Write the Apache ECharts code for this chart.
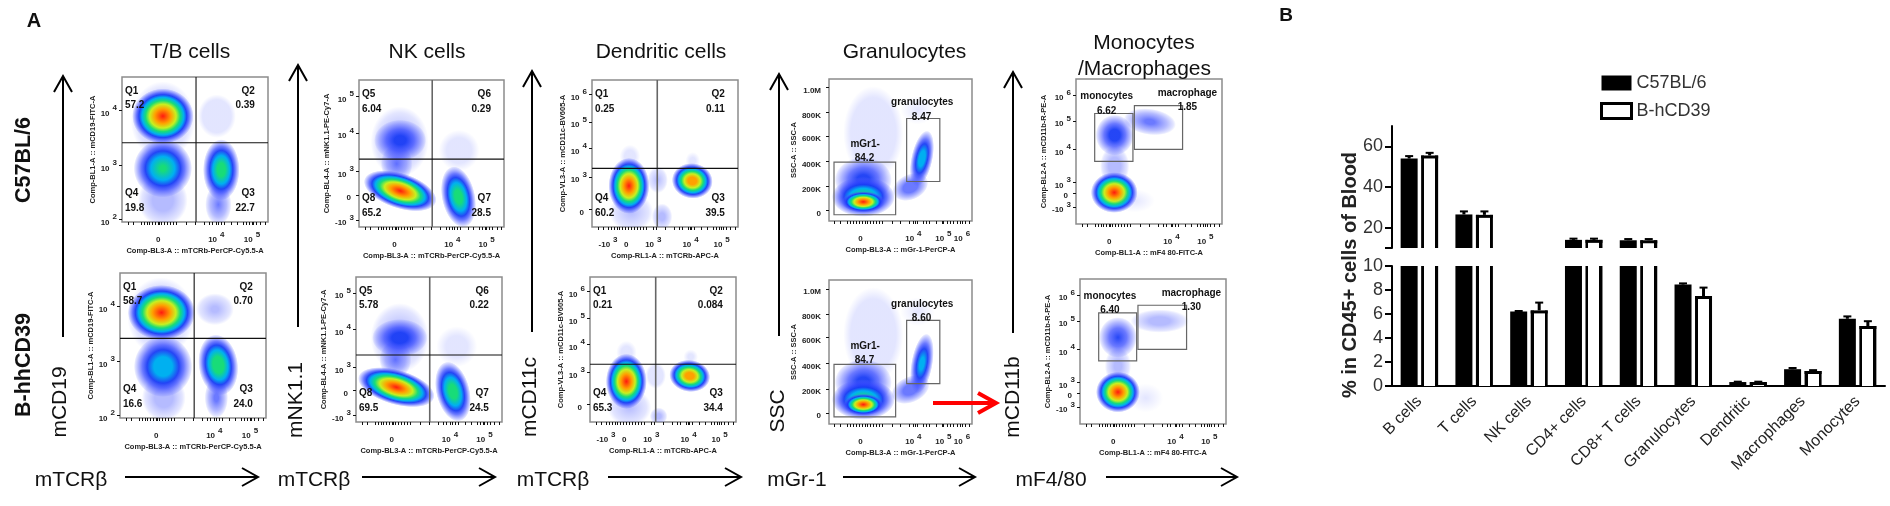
<!DOCTYPE html>
<html><head><meta charset="utf-8">
<style>html,body{margin:0;padding:0;background:#fff}#c{width:1890px;height:506px;filter:blur(0.4px)}</style>
<script src="https://cdn.jsdelivr.net/npm/echarts@6/dist/echarts.min.js"></script>
</head><body><div id="c"></div>
<script>
// ---------- Panel B data ----------
const cellTypes=['B cells','T cells','NK cells','CD4+ cells','CD8+ T cells','Granulocytes','Dendritic','Macrophages','Monocytes'];
const c57Values=[54,26.5,6.2,14,13.8,8.45,0.33,1.4,5.6];
const hcdValues=[55.5,26.3,6.3,14,13.8,7.5,0.33,1.25,5.0];
const c57Tops=[55.2,28,6.25,14.6,14.4,8.55,0.36,1.5,5.8];
const hcdTops=[56.8,28,6.95,14.6,14.4,8.2,0.36,1.32,5.4];
const upperTicks=[10,20,40,60];
const upperLabels=[20,40,60];
const lowerTicks=[0,2,4,6,8,10];
const seriesNames=['C57BL/6','B-hCD39'];

// ---------- Panel A: flow plots, values in percent of each plot's width and height ----------
// clouds: x, y, radiusX, radiusY, tilt, peak density
const tb1Cloud=[[28,70,22,27,0,.12],[28,15,17,18,0,.14],[66,12,9,14,0,.2],[65,73,13,15,0,.09],[28,73,21,19,0,1],[28,37,20,20,0,.58],[68,36,12.5,21,0,.63]];
const tb2Cloud=[[28,70,23,27,0,.12],[30,14,15,16,0,.14],[66,14,8,14,0,.22],[65,75,13,11,0,.11],[28.4,72.7,23,19,0,1],[29.5,35.5,20,21,0,.52],[67.3,36.6,13.5,21,8,.66]];
const nk1Cloud=[[28,58,20,24,0,.12],[26,43,11,13,0,.2],[69,52,14,14,0,.06],[28.4,59,18,14,0,.34],[28.4,24.6,26,12,-18,1],[68.6,20.5,11.5,21,12,.63]];
const nk2Cloud=[[30,58,20,24,0,.12],[27,43,11,13,0,.2],[69,52,14,14,0,.05],[30,58,19,13,0,.36],[27.6,24,27,12,-16,1],[66.4,21,11.5,21,14,.64]];
const dc1Cloud=[[27,10,15,13,0,.1],[45,32,7,9,0,.1],[48,7,7,9,0,.12],[25.3,28,14,19,0,1],[68.7,31.4,14,12,-8,.95],[26,48,7,8,0,.05],[69,45,5,6,0,.04]];
const dc2Cloud=[[27,10,15,13,0,.1],[45,32,7,9,0,.08],[47,4,6,6,0,.12],[24.9,28,14,19,0,1],[68.3,31.8,14,11,-8,.95],[25,48,7,8,0,.05],[69,45,5,5,0,.04]];
const gr1Cloud=[[31,62,21,33,0,.09],[57,24,13,9,25,.28],[65,44,7.5,20,-12,.5],[24,29,20,16,0,.34],[24,17,22,14,0,.6],[24,13.5,15,7.5,0,1],[62,78,12,10,0,.03]];
const gr2Cloud=[[31,62,21,33,0,.09],[57,24,14,9,25,.27],[65,42,7.5,21,-10,.47],[24,29,20,16,0,.34],[24,17,22,14,0,.6],[24,13.5,14,7.5,0,1],[62,78,12,10,0,.03]];
const mo1Cloud=[[26.5,40,10,14,0,.14],[26.5,61.3,13,14,0,.36],[50.6,70.5,18,9,-8,.22],[26.2,21.7,16,14,0,1],[40,16,14,8,0,.03]];
const mo2Cloud=[[26,40,9,13,0,.12],[26,59.7,13,14,0,.3],[54.6,71,20,8,0,.13],[26,22,15,14,0,1],[45,18,12,10,0,.03]];

const tb1Quad=[50.7,54.7], tb2Quad=[50.8,54.9], nk1Quad=[50.5,46.2], nk2Quad=[50.5,46.2], dc1Quad=[44.7,39.9], dc2Quad=[45,39.8];
const gr1Gates=[[3.5,4.4,46.6,41.4],[54.3,27.8,77.5,72.2]];
const gr2Gates=[[3.5,4.9,46.6,41.4],[54.3,28.1,77.5,71.9]];
const mo1Gates=[[12.8,43.2,39,76.2],[40,51.5,73,81.7]];
const mo2Gates=[[12.8,43.5,38.8,76.7],[39.7,51.5,73,81.9]];

const tbGates=['Q1','Q2','Q4','Q3'], nkGates=['Q5','Q6','Q8','Q7'];
const tb1Stats=['57.2','0.39','19.8','22.7'], tb2Stats=['58.7','0.70','16.6','24.0'];
const nk1Stats=['6.04','0.29','65.2','28.5'], nk2Stats=['5.78','0.22','69.5','24.5'];
const dc1Stats=['0.25','0.11','60.2','39.5'], dc2Stats=['0.21','0.084','65.3','34.4'];
const gr1Texts=[[65.2,83.6,'granulocytes'],[64.7,73.4,'8.47'],[25.3,54,'mGr1-'],[24.8,43.9,'84.2']];
const gr2Texts=[[65.2,83,'granulocytes'],[64.7,73.7,'8.60'],[25.3,54.2,'mGr1-'],[24.8,44,'84.7']];
const mo1Texts=[[21,88.3,'monocytes'],[21,78,'6.62'],[76.3,90.2,'macrophage'],[76.3,80.3,'1.85']];
const mo2Texts=[[20.5,88.3,'monocytes'],[20.5,78.5,'6.40'],[76.3,90.3,'macrophage'],[76.3,80.3,'1.30']];

const tbXTicks=[[25.8,'0'],[64.6,'10^4'],[89,'10^5']], tbYTicks=[[1.6,'10^2'],[38.9,'10^3'],[77,'10^4']];
const nkXTicks=[[25.5,'0'],[64.4,'10^4'],[88,'10^5']], nkYTicks=[[4.6,'-10^3'],[21.6,'0'],[37.6,'10^3'],[63.8,'10^4'],[88.8,'10^5']];
const dcXTicks=[[11,'-10^3'],[24.5,'0'],[42,'10^3'],[67.5,'10^4'],[88.8,'10^5']], dcYTicks=[[12,'0'],[34,'10^3'],[53.5,'10^4'],[71.5,'10^5'],[90,'10^6']];
const grXTicks=[[23,'0'],[59,'10^4'],[80,'10^5'],[93,'10^6']], grYTicks=[[7.5,'0'],[24.3,'200K'],[42,'400K'],[60,'600K'],[76.4,'800K'],[93.9,'1.0M']];
const moXTicks=[[23.7,'0'],[65.4,'10^4'],[88.6,'10^5']], moYTicks=[[11.7,'-10^3'],[21.3,'0'],[28.6,'10^3'],[51.5,'10^4'],[71,'10^5'],[89,'10^6']];
const minorMarks=[4,8,13,15,17,19,21,23,25,27,29,31,33,35,37,44,50,56,60,62,66,68,70,75,79,83,85,87,90,92,95,98];

const xNames={tb:'Comp-BL3-A :: mTCRb-PerCP-Cy5.5-A',nk:'Comp-BL3-A :: mTCRb-PerCP-Cy5.5-A',dc:'Comp-RL1-A :: mTCRb-APC-A',gr:'Comp-BL3-A :: mGr-1-PerCP-A',mo:'Comp-BL1-A :: mF4 80-FITC-A'};
const yNames={tb:'Comp-BL1-A :: mCD19-FITC-A',nk:'Comp-BL4-A :: mNK1.1-PE-Cy7-A',dc:'Comp-VL3-A :: mCD11c-BV605-A',gr:'SSC-A :: SSC-A',mo:'Comp-BL2-A :: mCD11b-R-PE-A'};

// ---------- layout ----------
const plots=[
 {box:[122,77,146,145],kind:'tb',cloud:tb1Cloud,quad:tb1Quad,stats:tb1Stats,gates:tbGates,xt:tbXTicks,yt:tbYTicks},
 {box:[359,80,145,147],kind:'nk',cloud:nk1Cloud,quad:nk1Quad,stats:nk1Stats,gates:nkGates,xt:nkXTicks,yt:nkYTicks},
 {box:[592,80,146,147],kind:'dc',cloud:dc1Cloud,quad:dc1Quad,stats:dc1Stats,gates:tbGates,xt:dcXTicks,yt:dcYTicks},
 {box:[829,79,143,142],kind:'gr',cloud:gr1Cloud,rects:gr1Gates,texts:gr1Texts,xt:grXTicks,yt:grYTicks},
 {box:[1076,79,146,145],kind:'mo',cloud:mo1Cloud,rects:mo1Gates,texts:mo1Texts,xt:moXTicks,yt:moYTicks},
 {box:[120,273,146,145],kind:'tb',cloud:tb2Cloud,quad:tb2Quad,stats:tb2Stats,gates:tbGates,xt:tbXTicks,yt:tbYTicks},
 {box:[356,277,146,145],kind:'nk',cloud:nk2Cloud,quad:nk2Quad,stats:nk2Stats,gates:nkGates,xt:nkXTicks,yt:nkYTicks},
 {box:[590,277,146,145],kind:'dc',cloud:dc2Cloud,quad:dc2Quad,stats:dc2Stats,gates:tbGates,xt:dcXTicks,yt:dcYTicks},
 {box:[829,280,143,144],kind:'gr',cloud:gr2Cloud,rects:gr2Gates,texts:gr2Texts,xt:grXTicks,yt:grYTicks},
 {box:[1080,279,146,145],kind:'mo',cloud:mo2Cloud,rects:mo2Gates,texts:mo2Texts,xt:moXTicks,yt:moYTicks}
];
const BAR_W=17, BAR_OFF=10.25, WALL=3;
const ramp=[[0,'rgba(80,95,255,0)'],[.03,'rgba(80,95,255,.16)'],[.1,'rgba(70,85,255,.4)'],[.2,'rgba(50,70,255,.72)'],[.3,'rgba(25,60,245,.95)'],[.42,'#00b0f0'],[.56,'#18dc78'],[.7,'#c8f020'],[.85,'#ffa000'],[1,'#ff1a10']];
function cloudFill(peak){
  const st=ramp.filter(r=>r[0]<=peak).map(r=>({offset:Math.pow(1-r[0]/peak,.7),color:r[1]})).reverse();
  return new echarts.graphic.RadialGradient(.5,.5,.5,st);
}
const rich={b:{fontSize:8,fontWeight:'bold',fontFamily:'Liberation Sans',color:'#222',padding:[6,3,0,0]},
            s:{fontSize:8,fontWeight:'bold',fontFamily:'Liberation Sans',color:'#222',padding:[0,0,5,0]}};
function tickLabel(list){return v=>{
  const e=list.find(t=>Math.abs(t[0]-v)<1e-6); if(!e) return '';
  const p=e[1].split('^'); return p.length>1?`{b|${p[0]}}{s|${p[1]}}`:`{b|${p[0]}}`;};}
function plotAxis(list,isX,name,idx){return {
  type:'value',min:0,max:100,gridIndex:idx,name:name,nameLocation:'middle',nameGap:isX?25:19,
  nameTextStyle:{fontFamily:'Liberation Sans',fontWeight:'bold',fontSize:7.5,color:'#222'},
  axisLine:{show:false},splitLine:{show:false},
  axisTick:{show:true,length:isX?3:3,lineStyle:{color:'#111',width:1},customValues:list.map(t=>t[0]).concat(isX?minorMarks:[])},
  axisLabel:{show:true,margin:isX?8:5,customValues:list.map(t=>t[0]),formatter:tickLabel(list),rich:rich,hideOverlap:false}
};}
const grid=[],xAxis=[],yAxis=[],series=[];
plots.forEach((p,i)=>{
  grid.push({left:p.box[0],top:p.box[1],width:p.box[2],height:p.box[3],show:true,borderColor:'#8c8c8c',borderWidth:1.5,backgroundColor:'#fff'});
  xAxis.push(plotAxis(p.xt,true,xNames[p.kind],i));
  yAxis.push(plotAxis(p.yt,false,yNames[p.kind],i));
  series.push({type:'custom',xAxisIndex:i,yAxisIndex:i,clip:true,silent:true,data:p.cloud,encode:{x:0,y:1},
    renderItem(par,api){
      const d=p.cloud[par.dataIndex],c=api.coord([d[0],d[1]]),s=api.size([d[2],d[3]]);
      return {type:'circle',x:c[0],y:c[1],rotation:d[4]*Math.PI/180,scaleX:1,scaleY:s[1]/s[0],
              shape:{cx:0,cy:0,r:s[0]},style:{fill:cloudFill(d[5])}};
    }});
  const overlays=p.quad?[p.quad]:p.rects;
  series.push({type:'custom',xAxisIndex:i,yAxisIndex:i,clip:false,silent:true,z:3,data:overlays,encode:{x:0,y:1},
    renderItem(par,api){
      const d=overlays[par.dataIndex];
      if(p.quad){
        const a=api.coord([d[0],0]),b=api.coord([d[0],100]),l=api.coord([0,d[1]]),r=api.coord([100,d[1]]);
        const gray=p.kind==='nk'||p.kind==='dc';
        return {type:'group',children:[
          {type:'line',shape:{x1:a[0],y1:a[1],x2:b[0],y2:b[1]},style:{stroke:gray?'#666':'#111',lineWidth:gray?1.6:1.1}},
          {type:'line',shape:{x1:l[0],y1:l[1],x2:r[0],y2:r[1]},style:{stroke:'#111',lineWidth:1.1}}]};
      }
      const a=api.coord([d[0],d[1]]),b=api.coord([d[2],d[3]]);
      return {type:'rect',shape:{x:a[0],y:b[1],width:b[0]-a[0],height:a[1]-b[1]},style:{fill:'none',stroke:'#666',lineWidth:1.2}};
    }});
  const texts=p.stats?[
      [2,90.2,p.gates[0],'left'],[2,80.2,p.stats[0],'left'],[91,90.2,p.gates[1],'right'],[91,80.2,p.stats[1],'right'],
      [2,19.6,p.gates[2],'left'],[2,9.6,p.stats[2],'left'],[91,19.6,p.gates[3],'right'],[91,9.6,p.stats[3],'right']]
    :p.texts.map(t=>t.concat('center'));
  series.push({type:'custom',xAxisIndex:i,yAxisIndex:i,clip:false,silent:true,z:4,data:texts.map(t=>[t[0],t[1]]),encode:{x:0,y:1},
    renderItem(par,api){
      const t=texts[par.dataIndex],c=api.coord([t[0],t[1]]);
      return {type:'text',x:c[0],y:c[1],style:{text:t[2],fill:'#111',font:'bold 10px "Liberation Sans"',align:t[3],verticalAlign:'middle'}};
    }});
});

// ---------- Panel B: broken axis, two grids ----------
const upIdx=plots.length, loIdx=upIdx+1;
const barLeft=1392, barRight=1890-1885;
grid.push({left:barLeft,right:barRight,top:126,height:122});
grid.push({left:barLeft,right:barRight,top:266,height:120});
xAxis.push({type:'category',gridIndex:upIdx,data:cellTypes,show:false});
xAxis.push({type:'category',gridIndex:loIdx,data:cellTypes,
  axisLine:{lineStyle:{color:'#000',width:2}},axisTick:{alignWithLabel:true,length:7,lineStyle:{color:'#000',width:2}},
  axisLabel:{rotate:45,margin:13,interval:0,fontSize:16,fontFamily:'Liberation Sans',color:'#222'}});
const yText={fontSize:18,fontFamily:'Liberation Sans',color:'#333'};
yAxis.push({type:'value',gridIndex:upIdx,min:10,max:70,splitLine:{show:false},
  axisLine:{show:true,lineStyle:{color:'#000',width:2}},axisTick:{show:true,length:7,lineStyle:{color:'#000',width:2},customValues:upperTicks},
  axisLabel:{...yText,margin:9,customValues:upperLabels}});
yAxis.push({type:'value',gridIndex:loIdx,min:0,max:10,splitLine:{show:false},
  axisLine:{show:true,lineStyle:{color:'#000',width:2}},axisTick:{show:true,length:7,lineStyle:{color:'#000',width:2},customValues:lowerTicks},
  axisLabel:{...yText,margin:9,customValues:lowerTicks}});
const wall=WALL/BAR_W;
const hollow=new echarts.graphic.LinearGradient(0,0,1,0,[{offset:0,color:'#000'},{offset:wall,color:'#000'},{offset:wall,color:'#fff'},{offset:1-wall,color:'#fff'},{offset:1-wall,color:'#000'},{offset:1,color:'#000'}]);
function pushBars(idx,keepBar,keepTop,base){
  [[c57Values,'#000',seriesNames[0]],[hcdValues,hollow,seriesNames[1]]].forEach(s=>{
    series.push({type:'bar',name:s[2],xAxisIndex:idx,yAxisIndex:idx,barWidth:BAR_W,barGap:'20.6%',clip:true,silent:true,
      data:s[0].map(v=>keepBar(v)?v:null),itemStyle:{color:s[1],borderWidth:0}});
  });
  [[c57Values,c57Tops,-1,false],[hcdValues,hcdTops,1,true]].forEach(s=>{
    series.push({type:'custom',xAxisIndex:idx,yAxisIndex:idx,clip:false,silent:true,z:5,
      data:s[0].map((v,k)=>[k,v,s[1][k]]).filter(d=>keepTop(d[1])),encode:{x:0,y:1},
      renderItem(par,api){
        const k=api.value(0),top=api.coord([k,api.value(1)]),err=api.coord([k,api.value(2)]);
        const x=top[0]+s[2]*BAR_OFF, kids=[
          {type:'line',shape:{x1:x,y1:top[1],x2:x,y2:err[1]},style:{stroke:'#000',lineWidth:3}},
          {type:'line',shape:{x1:x-4,y1:err[1],x2:x+4,y2:err[1]},style:{stroke:'#000',lineWidth:2}}];
        if(s[3]) kids.push({type:'rect',shape:{x:x-BAR_W/2,y:top[1],width:BAR_W,height:Math.min(WALL,Math.abs(api.coord([k,base])[1]-top[1]))},style:{fill:'#000'}});
        return {type:'group',children:kids};
      }});
  });
}
pushBars(upIdx,v=>v>=10,v=>v>=10,10);
pushBars(loIdx,v=>true,v=>v<10,0);

// ---------- annotations ----------
const gfx=[];
function txt(t,x,y,size,opt){opt=opt||{};gfx.push({type:'text',x:x,y:y,rotation:opt.rot?Math.PI/2:0,silent:true,
  style:{text:t,fill:opt.fill||'#111',font:`${opt.bold?'bold ':''}${size}px "Liberation Sans"`,align:'center',verticalAlign:'middle'}});}
function arrow(x1,y1,x2,y2,color,w,along,across){
  const vert=x1===x2;
  const pts=vert?[[x2-across,y2+along],[x2,y2],[x2+across,y2+along]]:[[x2-along,y2-across],[x2,y2],[x2-along,y2+across]];
  gfx.push({type:'line',silent:true,shape:{x1,y1,x2,y2},style:{stroke:color,lineWidth:w}});
  gfx.push({type:'polyline',silent:true,shape:{points:pts},style:{stroke:color,lineWidth:w,fill:'none'}});
}
[[63,337,76],[298,327,65],[532,332,71],[779,336,74],[1013,333,72]].forEach(a=>arrow(a[0],a[1],a[0],a[2],'#000',2,16,9));
[[125,258],[362,495],[608,741],[843,975],[1106,1237]].forEach(a=>arrow(a[0],477,a[1],477,'#000',2,16,9));
arrow(933,403,996,403,'#f00',4,18,10);
txt('A',34,21,20,{bold:true});txt('B',1286,16,19,{bold:true});
txt('T/B cells',190,52,21);txt('NK cells',427,52,21);txt('Dendritic cells',661,52,21);txt('Granulocytes',904.5,52,21);
txt('Monocytes',1144,43,21);txt('/Macrophages',1144.5,69,21);
txt('C57BL/6',24,160,21.5,{bold:true,rot:true});txt('B-hhCD39',24,365,21.5,{bold:true,rot:true});
txt('mCD19',60,402,21,{rot:true});txt('mNK1.1',296,400,21,{rot:true});txt('mCD11c',530,397,21,{rot:true});txt('SSC',778,411,21,{rot:true});txt('mCD11b',1013,397,21,{rot:true});
txt('mTCRβ',71,480,21);txt('mTCRβ',314,480,21);txt('mTCRβ',553,480,21);txt('mGr-1',797,480,21);txt('mF4/80',1051,480,21);
txt('% in CD45+ cells of Blood',1350,275,20,{bold:true,rot:true,fill:'#222'});

const chart=echarts.init(document.getElementById('c'),null,{renderer:'canvas'});
chart.setOption({animation:false,backgroundColor:'#fff',grid,xAxis,yAxis,series,
  legend:{left:1595,top:69,orient:'vertical',itemWidth:30,itemHeight:15,itemGap:10,icon:'rect',selectedMode:false,
    textStyle:{fontSize:18,fontFamily:'Liberation Sans',color:'#333'},
    data:[{name:seriesNames[0],itemStyle:{color:'#000',borderWidth:0}},{name:seriesNames[1],itemStyle:{color:'#fff',borderColor:'#000',borderWidth:3}}]},
  graphic:{elements:gfx}});
</script></body></html>
